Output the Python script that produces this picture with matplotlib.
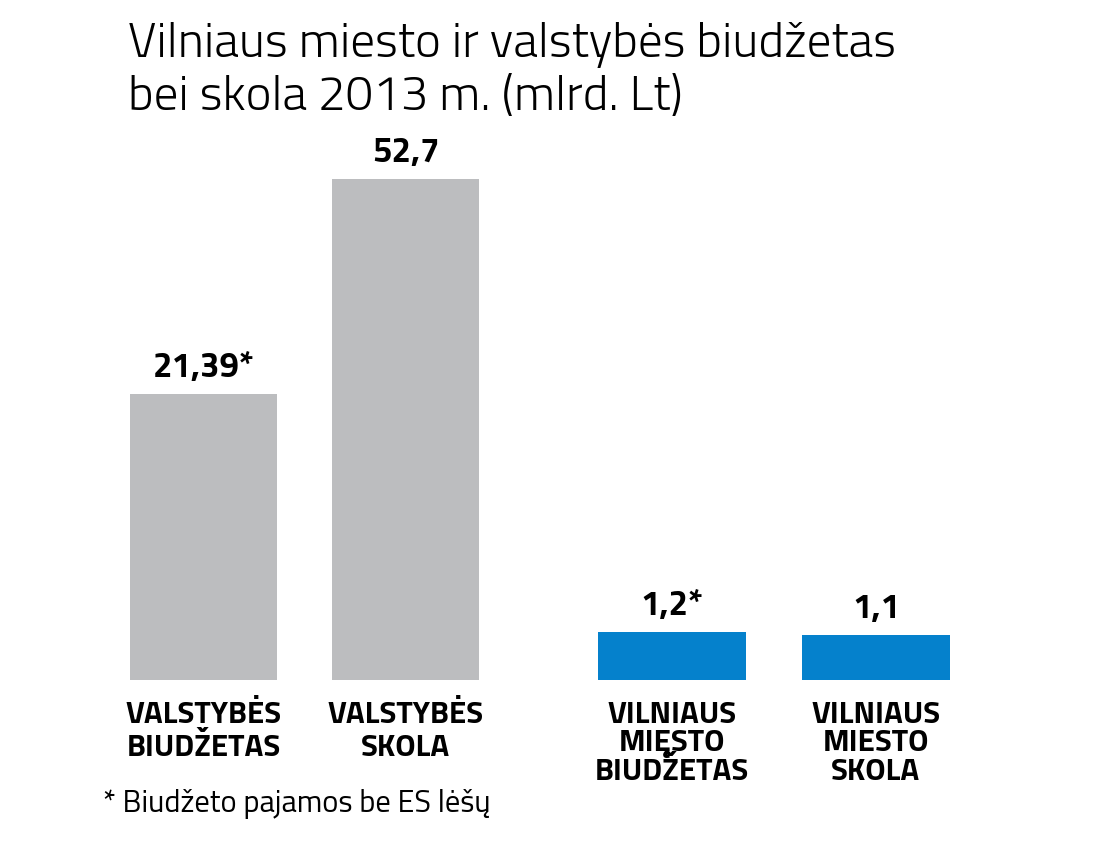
import matplotlib
matplotlib.use('Agg')
import matplotlib.pyplot as plt
import numpy as np

labels = ['VALSTYBĖS\nBIUDŽETAS', 'VALSTYBĖS\nSKOLA',
          'VILNIAUS\nMIĘSTO\nBIUDŽETAS', 'VILNIAUS\nMIESTO\nSKOLA']
values = [21.39, 52.7, 1.2, 1.1]
value_text = ['21,39*', '52,7', '1,2*', '1,1']
colors = ['#bcbdbf', '#bcbdbf', '#0581cc', '#0581cc']
title = 'Vilniaus miesto ir valstybės biudžetas\nbei skola 2013 m. (mlrd. Lt)'
note = '* Biudžeto pajamos be ES lėšų'

FONT = ['Titillium Web', 'DejaVu Sans']

# the original is not drawn to scale; a power scale comes close
p = 0.62
fwd = lambda v: np.sign(v) * np.abs(v) ** p
inv = lambda v: np.sign(v) * np.abs(v) ** (1 / p)

W, H = 1100, 860
fig = plt.figure(figsize=(W / 100, H / 100), dpi=100)
base = 680
ax = fig.add_axes([0, 1 - base / H, 1, 501 / H])
ax.set_yscale('function', functions=(fwd, inv))

x = np.array([0, 1, 2.319, 3.329])
ax.bar(x, values, width=0.73, color=colors)
ax.set_xlim(-203.5 / 202, (W - 203.5) / 202)
ax.set_ylim(0, max(values))
ax.axis('off')

for xi, v, t in zip(x, values, value_text):
    ax.annotate(t, (xi, v), xytext=(0, 7), textcoords='offset points',
                ha='center', va='bottom', fontsize=25, fontweight='bold',
                family=FONT, annotation_clip=False)

for i, (xi, lab) in enumerate(zip(x, labels)):
    ls = 1.2 if i < 2 else 0.97
    ax.annotate(lab, (xi, 0), xytext=(0, -15), textcoords='offset points',
                ha='center', va='top', fontsize=22.5, fontweight='bold',
                family=FONT, linespacing=ls, annotation_clip=False)

fig.text(128 / W, 1 - 22 / H, title, ha='left', va='top', fontsize=35.5,
         family=FONT, fontweight=300, linespacing=1.2)
fig.text(103 / W, 1 - 804 / H, note, ha='left', va='center', fontsize=22,
         family=FONT)

fig.savefig('out.png', dpi=100, facecolor='white')
